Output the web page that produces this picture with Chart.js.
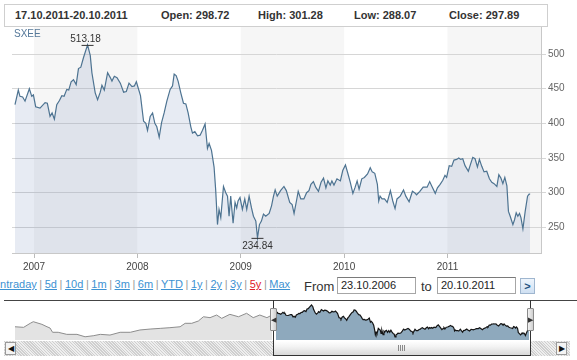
<!DOCTYPE html>
<html>
<head>
<meta charset="utf-8">
<script src="https://cdn.jsdelivr.net/npm/chart.js@4.4.1/dist/chart.umd.min.js"></script>
<style>
  body { margin:0; width:577px; height:360px; overflow:hidden; background:#fff; position:relative;
         font-family:"Liberation Sans", Arial, sans-serif; }
  .abs { position:absolute; }
  #head { left:4px; top:4px; width:544px; height:23px; border:1px solid #cfcfcf; box-sizing:border-box; }
  #head span { position:absolute; top:4px; font-size:11px; font-weight:bold; color:#333; white-space:nowrap; }
  #sym { left:14px; top:28px; font-size:10px; color:#56799a; }
  #mainWrap { left:0; top:0; width:577px; height:275px; }
  #links { left:-3px; top:278px; font-size:11px; color:#999; white-space:nowrap; word-spacing:-0.5px; }
  #links a { color:#3d92d2; text-decoration:underline; }
  #links a.on { color:#e0202a; }
  .lbl { font-size:13px; color:#333; }
  .inp { height:17px; border:1px solid #a6a6a6; border-top-color:#7a7a7a; box-sizing:border-box;
         font-size:11px; color:#222; padding:1px 0 0 3px; background:#fff; }
  #go { left:520px; top:278px; width:15px; height:16px; box-sizing:border-box; border:1px solid #9fb6cf;
        background:linear-gradient(#eef5fc,#cfe0f2); color:#24527f; font-size:11px; font-weight:bold;
        text-align:center; line-height:14px; }
  #navWrap { left:0; top:300px; width:577px; height:40px; }
  #navTop { left:4px; top:300px; width:573px; height:1px; background:#444; }
  .frame { top:300px; width:1px; height:56px; background:#333; }
  .handle { top:308px; width:7px; height:23px; box-sizing:border-box; border:1px solid #8a8a8a; border-radius:1px;
            background:linear-gradient(90deg,#f2f2f2,#cfcfcf); font-size:7px; color:#333; line-height:21px; text-align:center; }
  #track { left:4px; top:341px; width:566px; height:15px;
           background-image:repeating-linear-gradient(45deg,#cfcfcf 0 1px,#eeeeee 1px 2px); }
  .btn { top:342px; width:11px; height:13px; box-sizing:border-box; border:1px solid #9a9a9a;
         background:#f4f4f4; font-size:8px; line-height:11px; text-align:center; color:#111; }
  #thumb { left:273px; top:341px; width:258px; height:15px; box-sizing:border-box; border:1px solid #333; border-top:none;
           background:linear-gradient(#ffffff,#f3f3f3 40%,#d9d9d9); }
  #grip { left:398px; top:345px; width:7px; height:6px;
          background:repeating-linear-gradient(90deg,#8a8a8a 0 1px,transparent 1px 2px); }
</style>
</head>
<body>
<div id="head" class="abs"></div>
<div id="mainWrap" class="abs"><canvas id="mainChart"></canvas></div>
<div id="sym" class="abs">SXEE</div>
<div id="links" class="abs"></div>
<div class="abs lbl" style="left:304px;top:279px;">From</div>
<div class="abs inp" style="left:337px;top:277px;width:79px;">23.10.2006</div>
<div class="abs lbl" style="left:421px;top:279px;">to</div>
<div class="abs inp" style="left:437px;top:277px;width:79px;">20.10.2011</div>
<div id="go" class="abs">&gt;</div>
<div id="navWrap" class="abs"><canvas id="navChart"></canvas></div>
<div id="navTop" class="abs"></div>
<div id="track" class="abs"></div>
<div class="abs btn" style="left:5px;">&#9664;</div>
<div class="abs btn" style="left:556px;">&#9654;</div>
<div id="thumb" class="abs"></div>
<div id="grip" class="abs"></div>
<div class="abs frame" style="left:273px;"></div>
<div class="abs frame" style="left:530px;"></div>
<div class="abs handle" style="left:270px;">&#9664;</div>
<div class="abs handle" style="left:527px;">&#9654;</div>
<script>
// header quote
const headRange = '17.10.2011-20.10.2011';
const headLabels = ['Open', 'High', 'Low', 'Close'];
const headValues = [298.72, 301.28, 288.07, 297.89];
const headLeft = [14, 160, 257, 353, 448];

// range links
const rangeLinks = ['Intraday', '5d', '10d', '1m', '3m', '6m', 'YTD', '1y', '2y', '3y', '5y', 'Max'];
const activeRange = '5y';

// main series (decimal year, close)
const years = [
  2006.816, 2006.848, 2006.864, 2006.890, 2006.913, 2006.955, 2006.978, 2006.994, 2007.016, 2007.058,
  2007.107, 2007.129, 2007.155, 2007.175, 2007.197, 2007.220, 2007.246, 2007.269, 2007.291, 2007.317,
  2007.336, 2007.359, 2007.382, 2007.408, 2007.430, 2007.453, 2007.479, 2007.518, 2007.544, 2007.560,
  2007.592, 2007.615, 2007.641, 2007.657, 2007.680, 2007.712, 2007.738, 2007.754, 2007.777, 2007.803,
  2007.835, 2007.867, 2007.893, 2007.919, 2007.948, 2007.971, 2007.990, 2008.030, 2008.060, 2008.082,
  2008.098, 2008.124, 2008.147, 2008.169, 2008.188, 2008.211, 2008.234, 2008.259, 2008.285, 2008.317,
  2008.340, 2008.356, 2008.375, 2008.394, 2008.420, 2008.446, 2008.469, 2008.491, 2008.517, 2008.533,
  2008.556, 2008.582, 2008.607, 2008.630, 2008.655, 2008.678, 2008.694, 2008.717, 2008.742, 2008.758,
  2008.775, 2008.790, 2008.807, 2008.833, 2008.855, 2008.872, 2008.887, 2008.903, 2008.926, 2008.945,
  2008.961, 2008.974, 2008.993, 2009.016, 2009.039, 2009.058, 2009.081, 2009.104, 2009.123, 2009.146,
  2009.162, 2009.181, 2009.200, 2009.220, 2009.242, 2009.275, 2009.298, 2009.317, 2009.333, 2009.353,
  2009.385, 2009.418, 2009.441, 2009.474, 2009.497, 2009.516, 2009.539, 2009.556, 2009.581, 2009.611,
  2009.637, 2009.660, 2009.679, 2009.703, 2009.725, 2009.752, 2009.777, 2009.801, 2009.824, 2009.843,
  2009.866, 2009.882, 2009.902, 2009.931, 2009.964, 2009.987, 2010.013, 2010.038, 2010.060, 2010.085,
  2010.107, 2010.126, 2010.145, 2010.171, 2010.196, 2010.227, 2010.253, 2010.272, 2010.297, 2010.322,
  2010.335, 2010.348, 2010.367, 2010.391, 2010.417, 2010.448, 2010.471, 2010.493, 2010.512, 2010.543,
  2010.575, 2010.597, 2010.629, 2010.661, 2010.682, 2010.701, 2010.733, 2010.765, 2010.803, 2010.828,
  2010.850, 2010.882, 2010.903, 2010.929, 2010.955, 2010.976, 2010.992, 2011.017, 2011.041, 2011.063,
  2011.089, 2011.109, 2011.128, 2011.148, 2011.170, 2011.202, 2011.225, 2011.245, 2011.267, 2011.290,
  2011.309, 2011.332, 2011.354, 2011.380, 2011.406, 2011.429, 2011.451, 2011.478, 2011.497, 2011.517,
  2011.536, 2011.555, 2011.575, 2011.590, 2011.607, 2011.633, 2011.649, 2011.665, 2011.681, 2011.697,
  2011.711, 2011.730, 2011.752, 2011.775, 2011.790, 2011.800
];
const closes = [
  427, 448, 439, 438, 432, 450, 439, 441, 424, 422,
  430, 429, 410, 415, 406, 427, 433, 440, 439, 449,
  448, 460, 463, 456, 479, 481, 495, 513.18, 498, 473,
  444, 434, 445, 455, 448, 473, 466, 461, 468, 466,
  458, 445, 446, 458, 453, 454, 460, 440, 403, 400,
  390, 410, 415, 400, 395, 380, 401, 415, 432, 449,
  454, 471, 469, 461, 444, 429, 428, 415, 395, 386,
  388, 382, 383, 390, 399, 364, 371, 361, 337, 303,
  254, 276, 264, 309, 300, 295, 266, 295, 256, 286,
  278, 288, 293, 276, 291, 276, 295, 278, 266, 259,
  234.84, 254, 259, 269, 266, 270, 281, 295, 304, 295,
  303, 309, 303, 286, 283, 270, 288, 302, 291, 291,
  300, 303, 312, 316, 308, 302, 315, 321, 307, 317,
  311, 317, 311, 320, 317, 332, 340, 327, 315, 299,
  308, 317, 305, 320, 322, 327, 336, 330, 328, 312,
  288, 295, 291, 291, 286, 303, 288, 277, 291, 295,
  304, 295, 287, 302, 300, 297, 302, 308, 308, 316,
  309, 299, 307, 312, 318, 325, 322, 339, 338, 347,
  348, 350, 348, 349, 339, 331, 342, 351, 349, 337,
  348, 338, 330, 331, 320, 315, 313, 309, 326, 321,
  313, 322, 310, 273, 266, 254, 261, 271, 266, 270,
  264, 248, 273, 295, 298, 297.89
];

const yTicks = [250, 300, 350, 400, 450, 500];
const xTicks = [2007, 2008, 2009, 2010, 2011];
const shadedYears = [2007, 2009, 2011];

// navigator: earlier history (decimal year, close)
const histYears = [
  2001.68, 2001.85, 2001.98, 2002.04, 2002.21, 2002.31, 2002.37, 2002.42, 2002.53, 2002.70,
  2002.90, 2003.06, 2003.22, 2003.36, 2003.55, 2003.75, 2003.95, 2004.14, 2004.34, 2004.54,
  2004.73, 2004.93, 2005.03, 2005.16, 2005.29, 2005.39, 2005.52, 2005.65, 2005.75, 2005.91,
  2006.08, 2006.24, 2006.37, 2006.50, 2006.64, 2006.74
];
const histCloses = [
  324, 319, 354, 368, 345, 324, 313, 276, 276, 258,
  258, 237, 246, 258, 252, 276, 276, 296, 304, 310,
  316, 324, 354, 354, 374, 411, 403, 426, 397, 432,
  411, 441, 403, 426, 403, 426
];

// ---- header + links
const head = document.getElementById('head');
const parts = [headRange].concat(headLabels.map((l, i) => l + ': ' + headValues[i].toFixed(2)));
parts.forEach((t, i) => {
  const s = document.createElement('span');
  s.textContent = t;
  s.style.left = (headLeft[i] - 4) + 'px';
  head.appendChild(s);
});
document.getElementById('links').innerHTML = rangeLinks
  .map(r => '<a class="' + (r === activeRange ? 'on' : '') + '">' + r + '</a>')
  .join(' | ');

// ---- plugins
const yearBands = {
  id: 'yearBands',
  beforeDraw(chart) {
    const { ctx, chartArea: a, scales: { x } } = chart;
    ctx.save();
    ctx.fillStyle = '#f6f6f6';
    shadedYears.forEach(yr => {
      const l = Math.max(a.left, x.getPixelForValue(yr));
      const r = Math.min(a.right, x.getPixelForValue(yr + 1));
      if (r > l) ctx.fillRect(l, a.top, r - l, a.bottom - a.top);
    });
    ctx.restore();
  }
};

const extremes = {
  id: 'extremes',
  afterDatasetsDraw(chart) {
    const { ctx, scales: { x, y } } = chart;
    const hi = closes.indexOf(Math.max(...closes));
    const lo = closes.indexOf(Math.min(...closes));
    ctx.save();
    ctx.font = '10px "Liberation Sans", Arial, sans-serif';
    ctx.fillStyle = '#333';
    ctx.strokeStyle = '#333';
    ctx.lineWidth = 1;
    ctx.textAlign = 'center';
    // high
    let px = x.getPixelForValue(years[hi]), py = y.getPixelForValue(closes[hi]);
    ctx.beginPath(); ctx.moveTo(px - 6, py + 0.5); ctx.lineTo(px + 6, py + 0.5); ctx.stroke();
    ctx.textBaseline = 'bottom';
    ctx.fillText(closes[hi].toFixed(2), px - 2, py - 1);
    // low
    px = x.getPixelForValue(years[lo]); py = y.getPixelForValue(closes[lo]);
    ctx.beginPath(); ctx.moveTo(px - 6, py + 0.5); ctx.lineTo(px + 6, py + 0.5); ctx.stroke();
    ctx.textBaseline = 'top';
    ctx.fillText(closes[lo].toFixed(2), px, py + 3);
    ctx.restore();
  }
};

// ---- main chart
new Chart(document.getElementById('mainChart'), {
  type: 'line',
  data: {
    datasets: [{
      data: years.map((v, i) => ({ x: v, y: closes[i] })),
      borderColor: '#4d7391',
      borderWidth: 1.2,
      backgroundColor: 'rgba(70,100,165,0.13)',
      fill: 'start',
      pointRadius: 0,
      tension: 0
    }]
  },
  options: {
    responsive: true,
    maintainAspectRatio: false,
    animation: false,
    layout: { padding: { left: 12, top: 27, right: 0, bottom: 0 } },
    plugins: { legend: { display: false }, tooltip: { enabled: false } },
    scales: {
      x: {
        type: 'linear',
        min: 2006.787,
        max: 2011.905,
        afterBuildTicks: s => { s.ticks = xTicks.map(v => ({ value: v })); },
        afterFit: s => { s.height = 22; },
        grid: { drawOnChartArea: false, tickLength: 5, color: '#bbb' },
        border: { color: '#c8c8c8' },
        ticks: { callback: v => String(v), font: { size: 10, family: '"Liberation Sans", Arial' }, color: '#444', padding: 3, maxRotation: 0 }
      },
      y: {
        position: 'right',
        min: 213,
        max: 539,
        afterBuildTicks: s => { s.ticks = yTicks.map(v => ({ value: v })); },
        afterFit: s => { s.width = 36; },
        grid: { color: '#d6d6d6', tickLength: 5 },
        border: { color: '#c8c8c8' },
        ticks: { font: { size: 10, family: '"Liberation Sans", Arial' }, color: '#666', padding: 2 }
      }
    }
  },
  plugins: [yearBands, extremes]
});

// ---- navigator chart
new Chart(document.getElementById('navChart'), {
  type: 'line',
  data: {
    datasets: [{
      data: histYears.map((v, i) => ({ x: v, y: histCloses[i] })),
      borderColor: '#8d8d8d',
      borderWidth: 1,
      backgroundColor: '#e3e3e3',
      fill: 'start',
      pointRadius: 0
    }, {
      data: years.map((v, i) => ({ x: v, y: closes[i] })),
      borderColor: '#151515',
      borderWidth: 1.2,
      backgroundColor: '#8ea9bd',
      fill: 'start',
      pointRadius: 0
    }]
  },
  options: {
    responsive: true,
    maintainAspectRatio: false,
    animation: false,
    layout: { padding: { left: 15, top: 2, right: 48, bottom: 0 } },
    plugins: { legend: { display: false }, tooltip: { enabled: false } },
    scales: {
      x: { type: 'linear', display: false, min: 2001.68, max: 2011.8 },
      y: { display: false, min: 209, max: 539 }
    }
  }
});
</script>
</body>
</html>
